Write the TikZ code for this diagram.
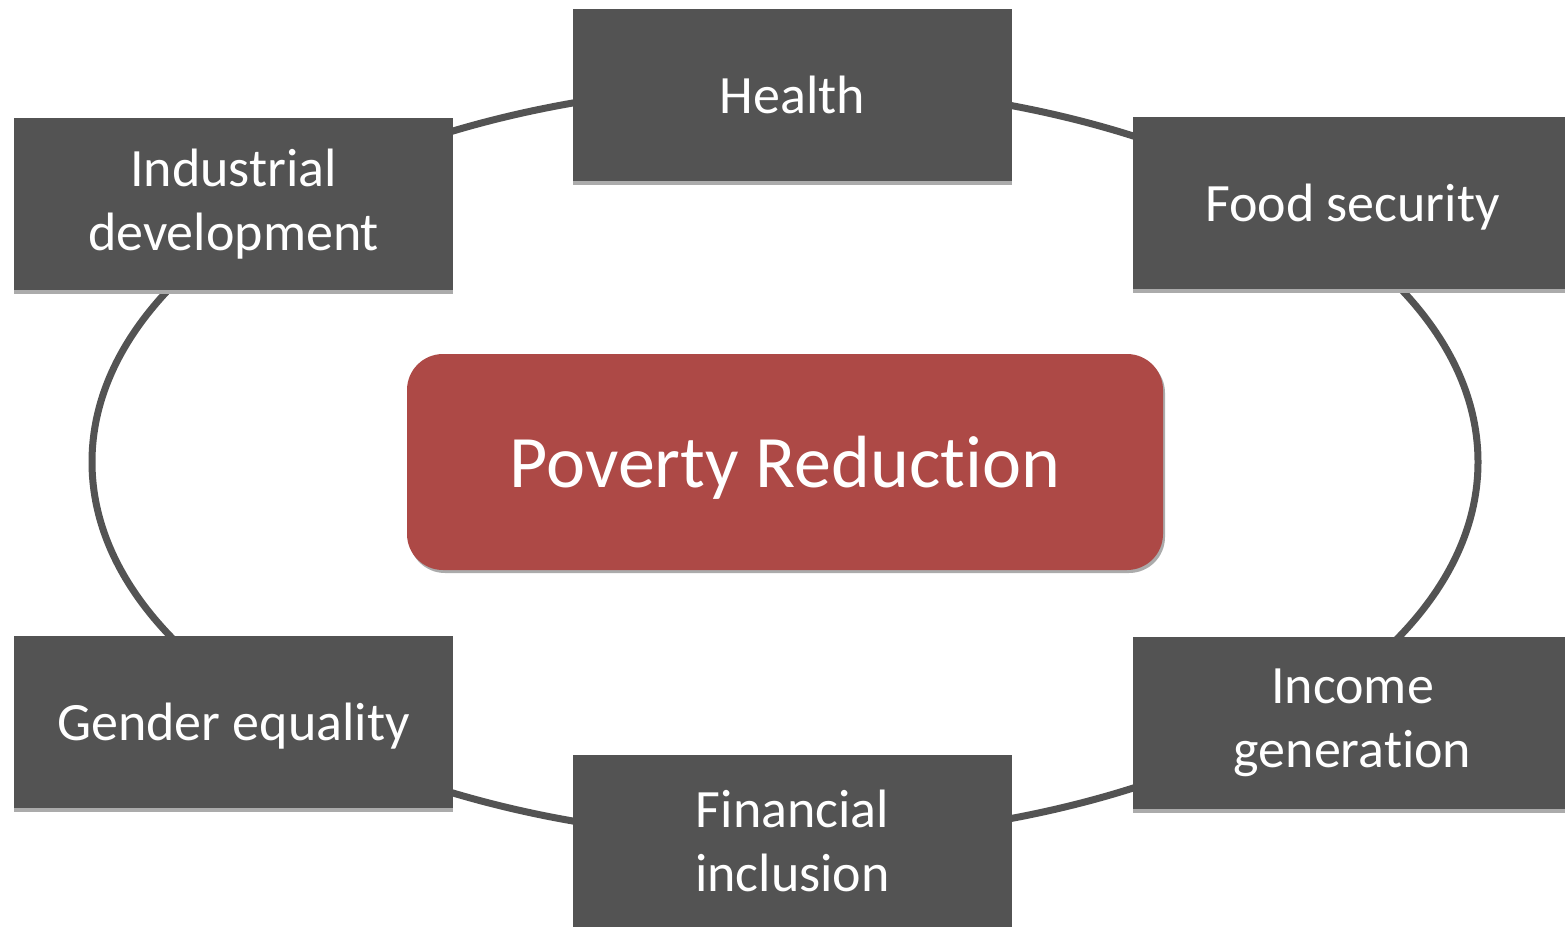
\documentclass[tikz,border=0pt]{standalone}
\usepackage{fontspec}
\setmainfont{Carlito}[Ligatures=NoCommon]
\usetikzlibrary{shadows}
\definecolor{boxgray}{HTML}{535353}
\definecolor{shgray}{HTML}{ABABAB}
\definecolor{povred}{HTML}{AD4946}
\begin{document}
\begin{tikzpicture}[x=1pt,y=-1pt,
  topic/.style={fill=boxgray, text=white, minimum width=439pt, minimum height=172pt,
    inner sep=0pt, align=center, font=\fontsize{54}{64}\selectfont,
    drop shadow={shadow xshift=0pt, shadow yshift=-4pt, fill=shgray, opacity=1}},
  oneline/.style={text depth=0pt},
  core/.style={fill=povred, text=white, minimum width=756pt, minimum height=216pt,
    rounded corners=36pt, inner sep=0pt, text depth=0pt, font=\fontsize{74}{80}\selectfont,
    drop shadow={shadow xshift=2pt, shadow yshift=-3pt, fill=shgray, opacity=1}},
  ring/.style={draw=boxgray, line width=7pt}]
\useasboundingbox (0,0) rectangle (1565,926);
\coordinate (c) at (785,462);
\draw[ring] (c) ellipse [x radius=693, y radius=377];
\node[core] (pov) at (785,462) {Poverty Reduction};
\node[topic, oneline] (health) at (792.5,95) {Health};
\node[topic] (ind) at (233.5,204) {Industrial\\development};
\node[topic, oneline] (food) at (1352.5,203) {Food security};
\node[topic, oneline] (gender) at (233.5,722) {Gender equality};
\node[topic] (income) at (1352.5,723) {Income\\generation};
\node[topic] (fin) at (792.5,841) {Financial\\inclusion};
\end{tikzpicture}
\end{document}
